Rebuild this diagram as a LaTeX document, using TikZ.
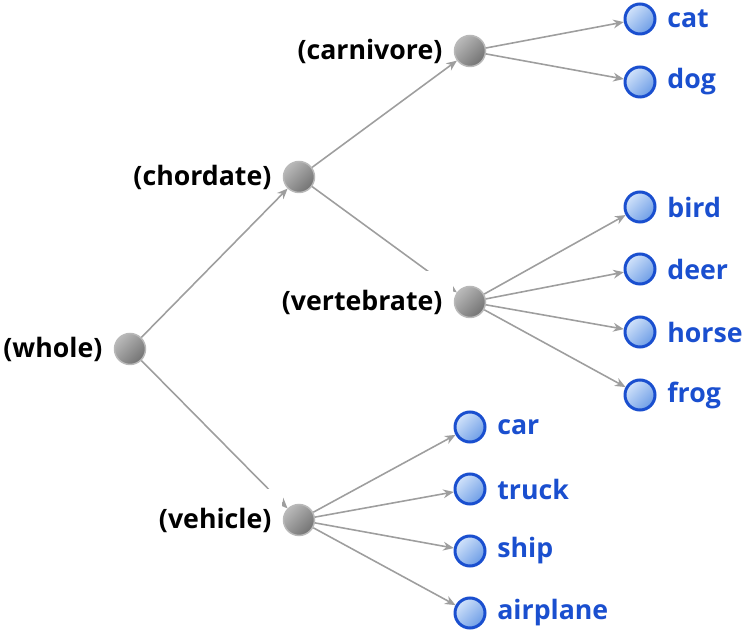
\documentclass[tikz,border=0pt]{standalone}
\usepackage{fontspec}
\setmainfont{Open Sans}
\usetikzlibrary{arrows.meta,positioning}
\definecolor{leafblue}{HTML}{1A4FCF}
\definecolor{leaflight}{HTML}{D2E3FA}
\definecolor{leafdark}{HTML}{6D9DE6}
\definecolor{edgegray}{HTML}{9E9E9E}
\tikzset{
  inner/.style={circle,minimum size=0.62cm,inner sep=0pt,draw=gray!55,line width=0.03cm,
    top color=gray!55,bottom color=gray!90!black,shading angle=45},
  leaf/.style={circle,minimum size=0.6cm,inner sep=0pt,draw=leafblue,line width=0.06cm,
    top color=leaflight,bottom color=leafdark,shading angle=45},
  tag/.style={font=\bfseries\fontsize{15.2}{17}\selectfont,fill=white,inner xsep=0.22cm,minimum height=1.24cm},
  leaftag/.style={font=\bfseries\fontsize{15.2}{17}\selectfont,text=leafblue,inner sep=2pt},
  edge/.style={draw=edgegray,line width=0.9pt,-{Stealth[length=6pt,width=5pt]}}
}
\begin{document}
\begin{tikzpicture}[x=0.02cm,y=-0.02cm]
\useasboundingbox (0,0) rectangle (744,638);
% inner nodes
\node[inner] (whole) at (130,349) {};
\node[inner] (chordate) at (299,177) {};
\node[inner] (carnivore) at (470,51) {};
\node[inner] (vertebrate) at (470,302) {};
\node[inner] (vehicle) at (299,520) {};
% leaves
\node[leaf] (cat) at (640,19) {};
\node[leaf] (dog) at (640,82) {};
\node[leaf] (bird) at (640,207) {};
\node[leaf] (deer) at (640,269) {};
\node[leaf] (horse) at (640,332) {};
\node[leaf] (frog) at (640,395) {};
\node[leaf] (car) at (470,427) {};
\node[leaf] (truck) at (470,489) {};
\node[leaf] (ship) at (470,551) {};
\node[leaf] (airplane) at (470,613) {};
% these two run under the labels
\draw[edge] (whole) -- (vehicle);
\draw[edge] (chordate) -- (vertebrate);
% labels
\foreach \n in {whole,chordate,carnivore,vertebrate,vehicle}
  \node[tag,left=0pt of \n] (\n-lbl) {(\n)};
\foreach \n in {cat,dog,bird,deer,horse,frog,car,truck,ship,airplane}
  \node[leaftag,right=0.14cm of \n] (\n-lbl) {\n};
% remaining edges
\draw[edge] (whole) -- (chordate);
\draw[edge] (chordate) -- (carnivore);
\foreach \t in {cat,dog} \draw[edge] (carnivore) -- (\t);
\foreach \t in {bird,deer,horse,frog} \draw[edge] (vertebrate) -- (\t);
\foreach \t in {car,truck,ship,airplane} \draw[edge] (vehicle) -- (\t);
\end{tikzpicture}
\end{document}
